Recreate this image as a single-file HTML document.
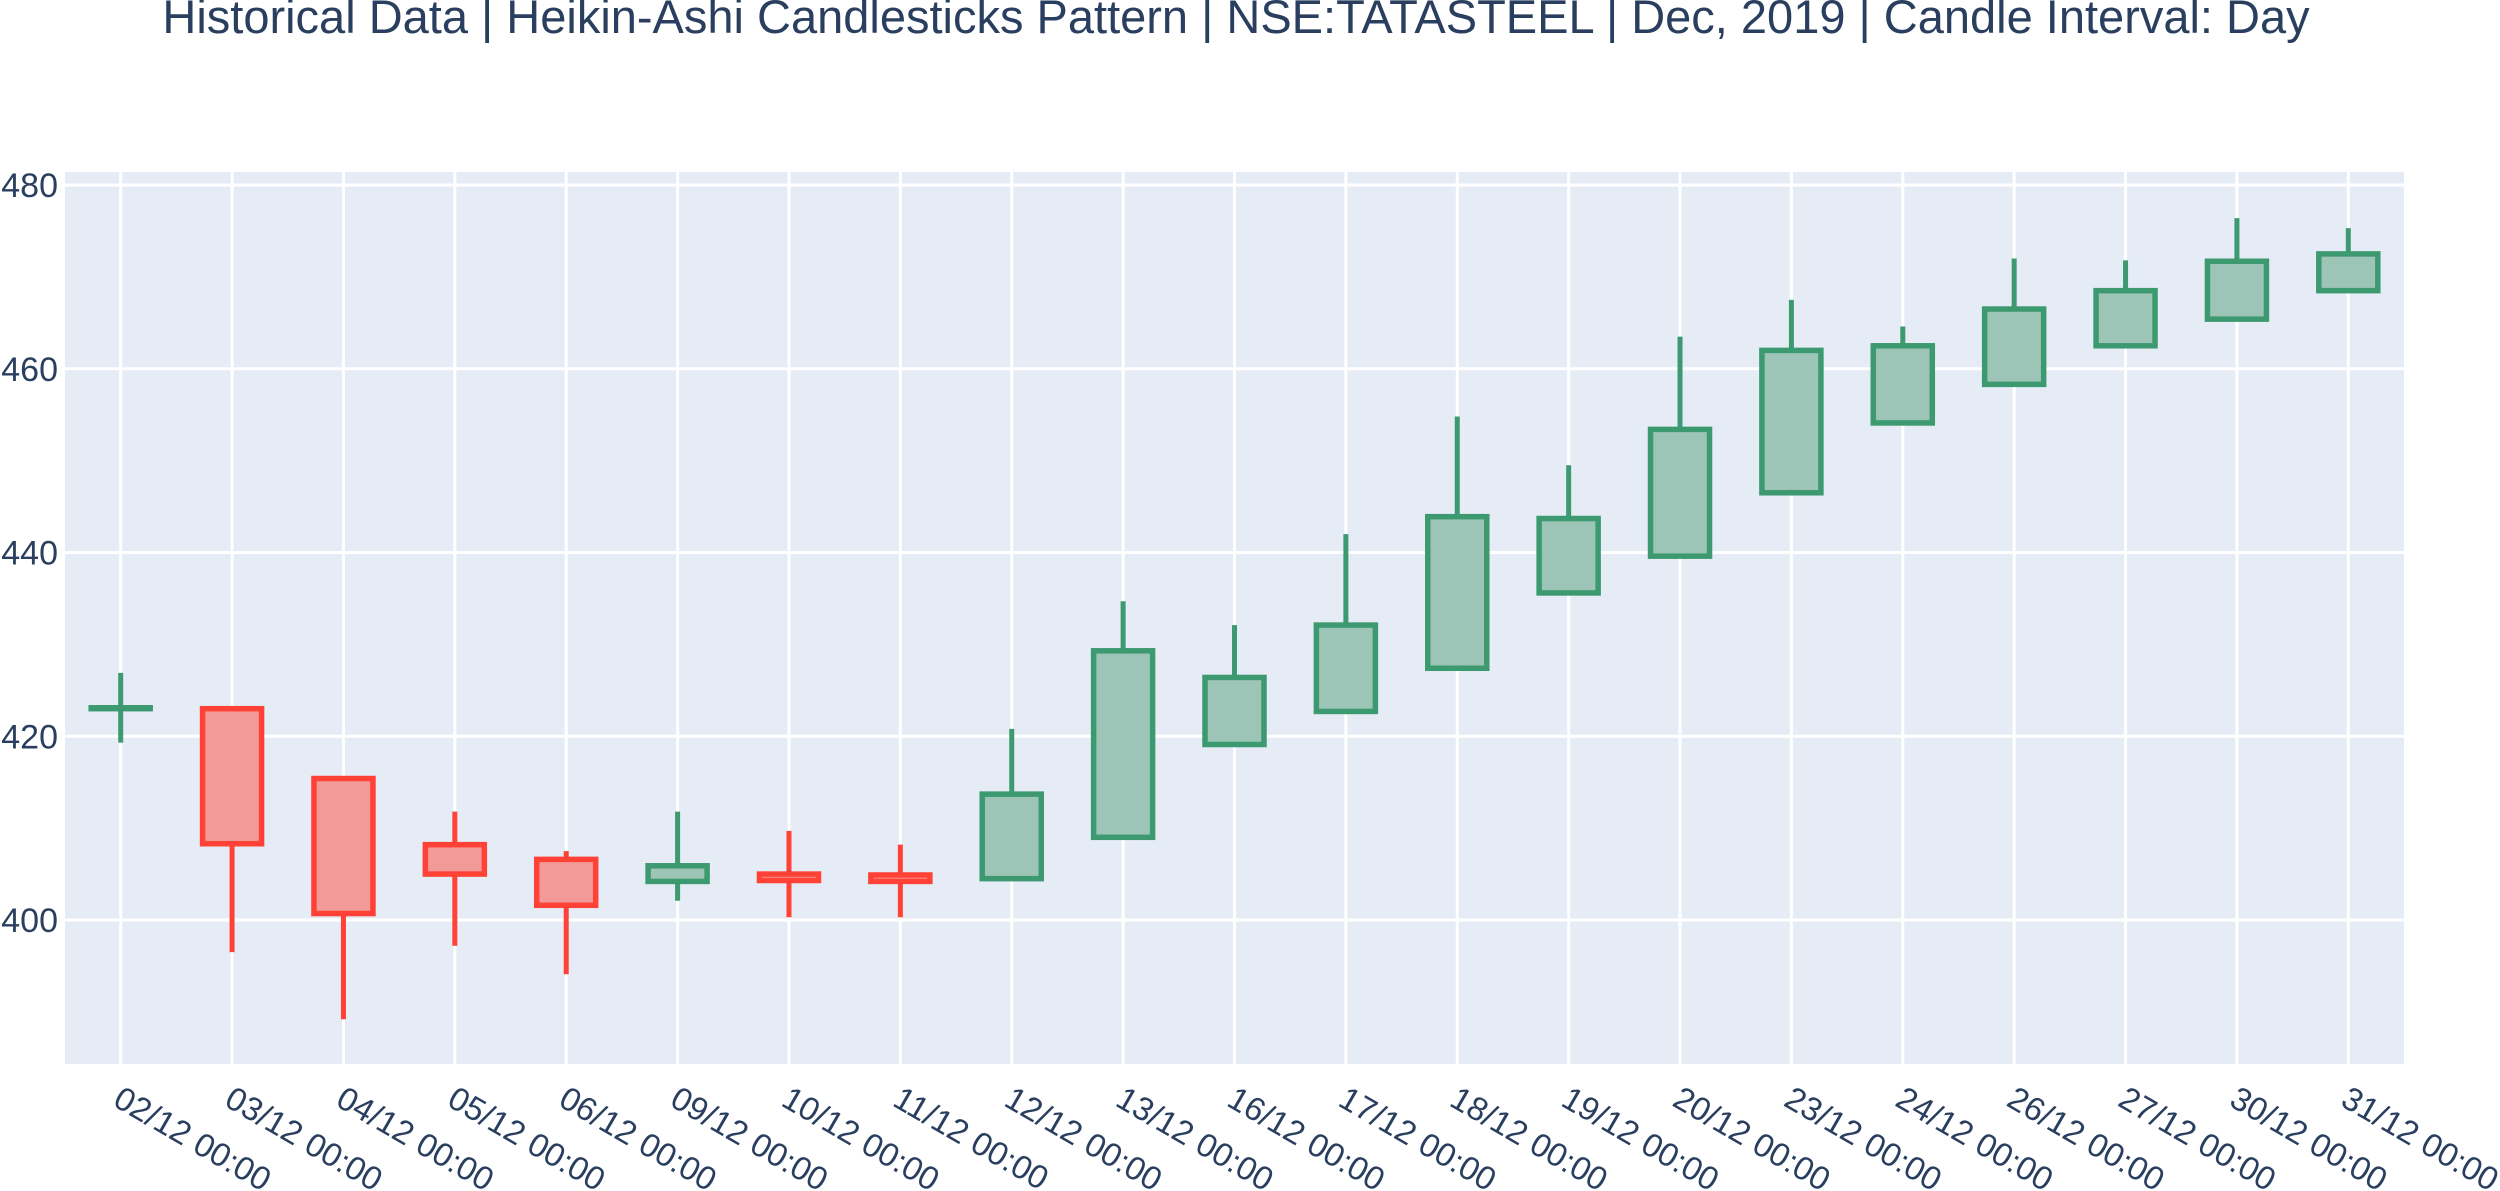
<!DOCTYPE html>
<html><head><meta charset="utf-8"><style>
html,body{margin:0;padding:0;background:#fff;}
svg{display:block;font-family:"Liberation Sans",sans-serif;}
</style></head><body>
<svg id="chart" width="2500" height="1191" xmlns="http://www.w3.org/2000/svg">
<text x="1236" y="33" text-anchor="middle" font-size="47" fill="#2a3f5f">Historical Data | Heikin-Ashi Candlesticks Pattern | NSE:TATASTEEL | Dec, 2019 | Candle Interval: Day</text>
<rect x="65" y="172" width="2339" height="892" fill="#E5ECF6"/>
<g id="grid"></g>
<g id="candles"></g>
<g id="yticks"></g>
<g id="xticks"></g>
</svg>
<script>
const categories = ["02/12 00:00","03/12 00:00","04/12 00:00","05/12 00:00","06/12 00:00","09/12 00:00","10/12 00:00","11/12 00:00","12/12 00:00","13/12 00:00","16/12 00:00","17/12 00:00","18/12 00:00","19/12 00:00","20/12 00:00","23/12 00:00","24/12 00:00","26/12 00:00","27/12 00:00","30/12 00:00","31/12 00:00"];
const openVals  = [423.0,423.0,415.4,408.2,406.6,404.2,405.0,404.9,404.5,409.0,419.1,422.7,427.4,435.6,439.6,446.5,454.1,458.3,462.5,465.4,468.5];
const closeVals = [423.1,408.3,400.7,405.0,401.6,405.9,404.3,404.2,413.7,429.3,426.4,432.1,443.9,443.7,453.4,462.0,462.5,466.5,468.5,471.7,472.5];
const highVals  = [426.9,423.0,415.4,411.8,407.5,411.8,409.7,408.2,420.8,434.7,432.1,442.0,454.8,449.5,463.5,467.5,464.6,472.0,471.8,476.4,475.3];
const lowVals   = [419.3,396.5,389.2,397.2,394.1,402.1,400.3,400.3,404.5,409.0,419.1,422.7,427.4,435.6,439.6,446.5,454.1,458.3,462.5,465.4,468.5];
const yTicks = [400,420,440,460,480];

const NS="http://www.w3.org/2000/svg";
const PL=65, PW=2339, PT=172, PB=1064;
const step = PW/categories.length;
function xPos(i){return PL+step*(i+0.5);}
function yPos(v){return 920-(v-400)*(735/80);}
function mk(tag,attrs,parent){const e=document.createElementNS(NS,tag);for(const k in attrs)e.setAttribute(k,attrs[k]);parent.appendChild(e);return e;}
const grid=document.getElementById('grid'), cg=document.getElementById('candles'), yg=document.getElementById('yticks'), xg=document.getElementById('xticks');
yTicks.forEach(t=>{
  const l=mk('line',{x1:PL,x2:PL+PW,y1:yPos(t),y2:yPos(t),stroke:'#fff','stroke-width':3},grid);
  
  
  const tx=mk('text',{x:58,y:yPos(t)+12,'text-anchor':'end','font-size':34,fill:'#2a3f5f'},yg);
  tx.textContent=t;
  
  
});
categories.forEach((c,i)=>{
  const x=xPos(i);
  const l=mk('line',{x1:x,x2:x,y1:PT,y2:PB,stroke:'#fff','stroke-width':3},grid);
  
  
  const tx=mk('text',{transform:`translate(${x+4},1082) rotate(30)`,dy:'0.8em','font-size':33,fill:'#2a3f5f'},xg);
  tx.textContent=c;
  
  
});
categories.forEach((c,i)=>{
  const o=openVals[i], cl=closeVals[i], up=cl>=o;
  const col=up?'#3D9970':'#FF4136';
  const fill=up?'#9DC5B7':'#F29A98';
  const g=mk('g',{},cg);
  
  
  const x=xPos(i), w=59;
  const top=yPos(Math.max(o,cl)), bot=yPos(Math.min(o,cl));
  mk('line',{x1:x,x2:x,y1:yPos(highVals[i]),y2:yPos(lowVals[i]),stroke:col,'stroke-width':5},g);
  mk('rect',{x:x-w/2,y:top,width:w,height:Math.max(bot-top,0.5),fill:fill,stroke:col,'stroke-width':5.5},g);
});
</script>
</body></html>
